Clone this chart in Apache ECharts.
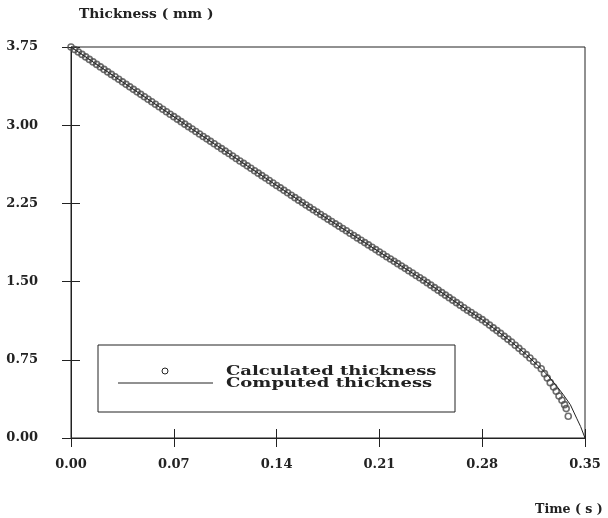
<!DOCTYPE html>
<html><head><meta charset="utf-8">
<script src="https://cdn.jsdelivr.net/npm/echarts@6/dist/echarts.min.js"></script>
<style>html,body{margin:0;padding:0;background:#fff}#c{width:608px;height:518px}</style>
</head><body><div id="c"></div>
<script>
// Calculated thickness (circles), time in s, thickness in mm
const calcTime = [
0,0.0025,0.005,0.0075,0.01,0.0125,0.015,0.0175,0.02,0.0225,
0.025,0.0275,0.03,0.0325,0.035,0.0375,0.04,0.0425,0.045,0.0475,
0.05,0.0525,0.055,0.0575,0.06,0.0625,0.065,0.0675,0.07,0.0725,
0.075,0.0775,0.08,0.0825,0.085,0.0875,0.09,0.0925,0.095,0.0975,
0.1,0.1025,0.105,0.1075,0.11,0.1125,0.115,0.1175,0.12,0.1225,
0.125,0.1275,0.13,0.1325,0.135,0.1375,0.14,0.1425,0.145,0.1475,
0.15,0.1525,0.155,0.1575,0.16,0.1625,0.165,0.1675,0.17,0.1725,
0.175,0.1775,0.18,0.1825,0.185,0.1875,0.19,0.1925,0.195,0.1975,
0.2,0.2025,0.205,0.2075,0.21,0.2125,0.215,0.2175,0.22,0.2225,
0.225,0.2275,0.23,0.2325,0.235,0.2375,0.24,0.2425,0.245,0.2475,
0.25,0.2525,0.255,0.2575,0.26,0.2625,0.265,0.2675,0.27,0.2725,
0.275,0.2775,0.28,0.2825,0.285,0.2875,0.29,0.2925,0.295,0.2975,
0.3,0.3025,0.305,0.3075,0.31,0.3125,0.315,0.3175,
0.3202,0.3224,0.3243,0.3263,0.3286,0.3304,0.3323,0.3343,0.3361,0.3372,0.3386
];
const calcThick = [
3.750,3.726,3.702,3.679,3.655,3.631,3.607,3.583,3.559,3.535,
3.511,3.487,3.464,3.440,3.416,3.392,3.368,3.344,3.320,3.296,
3.273,3.249,3.225,3.201,3.177,3.153,3.129,3.105,3.082,3.058,
3.034,3.010,2.986,2.963,2.939,2.916,2.892,2.869,2.845,2.822,
2.798,2.775,2.751,2.728,2.704,2.681,2.657,2.634,2.610,2.587,
2.563,2.540,2.516,2.493,2.469,2.446,2.422,2.399,2.375,2.352,
2.328,2.305,2.281,2.258,2.234,2.212,2.189,2.167,2.144,2.122,
2.099,2.077,2.054,2.032,2.009,1.987,1.964,1.942,1.919,1.897,
1.874,1.852,1.829,1.807,1.784,1.762,1.739,1.717,1.694,1.672,
1.649,1.627,1.604,1.582,1.559,1.537,1.514,1.490,1.466,1.442,
1.418,1.394,1.370,1.346,1.322,1.298,1.274,1.249,1.225,1.203,
1.180,1.158,1.135,1.109,1.083,1.056,1.030,1.003,0.975,0.948,
0.920,0.890,0.860,0.830,0.800,0.767,0.733,0.700,
0.664,0.617,0.575,0.531,0.489,0.448,0.403,0.362,0.320,0.282,0.208
];
// Computed thickness (line)
const compTime  = [0,0.04,0.08,0.12,0.16,0.20,0.24,0.26,0.27,0.28,0.29,0.30,0.31,0.32,0.325,0.33,0.335,0.34,0.3443,0.347,0.35];
const compThick = [3.75,3.368,2.986,2.610,2.234,1.874,1.514,1.322,1.225,1.135,1.030,0.920,0.800,0.668,0.595,0.510,0.420,0.320,0.190,0.110,0.0];

const xTickLabels = ['0.00','0.07','0.14','0.21','0.28','0.35'];
const yTickLabels = ['0.00','0.75','1.50','2.25','3.00','3.75'];
const seriesNames = ['Calculated thickness','Computed thickness'];
const xTitle = 'Time ( s )';
const yTitle = 'Thickness ( mm )';
const xStep = 0.07, xMax = 0.35, yStep = 0.75, yMax = 3.75;

const INK = '#222';
const FONT = '"DejaVu Serif", serif';
const lbl = {fontFamily: FONT, fontWeight: 'bold', fontSize: 13, color: INK};

function xAx(inside){
  return {
    type:'value', position:'bottom', min:0, max:xMax, interval:xStep,
    axisLine:{show:!inside, lineStyle:{color:INK, width:1}},
    axisTick:{show:true, inside:inside, length:9, lineStyle:{color:INK, width:1}},
    axisLabel: inside ? {show:false} : Object.assign({margin:20, formatter:v => xTickLabels[Math.round(v/xStep)]}, lbl),
    splitLine:{show:false}
  };
}
function yAx(inside){
  return {
    type:'value', position:'left', min:0, max:yMax, interval:yStep,
    axisLine:{show:!inside, lineStyle:{color:INK, width:1}},
    axisTick:{show:true, inside:inside, length:9, lineStyle:{color:INK, width:1}},
    axisLabel: inside ? {show:false} : Object.assign({margin:33, formatter:v => yTickLabels[Math.round(v/yStep)]}, lbl),
    splitLine:{show:false}
  };
}

const chart = echarts.init(document.getElementById('c'), null, {renderer:'canvas'});
chart.setOption({
  animation:false,
  backgroundColor:'#fff',
  grid:{left:71, top:47, right:23, bottom:80, show:true, borderColor:INK, borderWidth:1, backgroundColor:'transparent'},
  xAxis:[xAx(false), xAx(true)],
  yAxis:[yAx(false), yAx(true)],
  series:[
    {
      name:seriesNames[0], type:'scatter', xAxisIndex:0, yAxisIndex:0,
      data: calcTime.map((t,i)=>[t, calcThick[i]]),
      symbol:'circle', symbolSize:6,
      itemStyle:{color:'rgba(0,0,0,0)', borderColor:'#4a4a4a', borderWidth:1.6},
      z:2
    },
    {
      name:seriesNames[1], type:'line', xAxisIndex:0, yAxisIndex:0,
      data: compTime.map((t,i)=>[t, compThick[i]]),
      showSymbol:false, symbol:'none',
      lineStyle:{color:INK, width:1},
      z:3
    }
  ],
  graphic:[
    {type:'text', x:79, y:15, scaleX:1.15, style:{text:yTitle, font:'bold 12px "DejaVu Serif"', fill:INK, align:'left', verticalAlign:'middle'}},
    {type:'text', x:535, y:510, scaleX:1.05, style:{text:xTitle, font:'bold 12px "DejaVu Serif"', fill:INK, align:'left', verticalAlign:'middle'}},
    {type:'rect', shape:{x:98, y:345, width:357, height:67}, style:{fill:'none', stroke:INK, lineWidth:1}},
    {type:'circle', shape:{cx:165, cy:371, r:3}, style:{fill:'none', stroke:INK, lineWidth:1}},
    {type:'line', shape:{x1:118, y1:383, x2:213, y2:383}, style:{stroke:INK, lineWidth:1}},
    {type:'text', x:226, y:372, scaleX:1.5, style:{text:seriesNames[0], font:'bold 12px "DejaVu Serif"', fill:INK, align:'left', verticalAlign:'middle'}},
    {type:'text', x:226, y:384, scaleX:1.5, style:{text:seriesNames[1], font:'bold 12px "DejaVu Serif"', fill:INK, align:'left', verticalAlign:'middle'}}
  ]
});
</script>
</body></html>
